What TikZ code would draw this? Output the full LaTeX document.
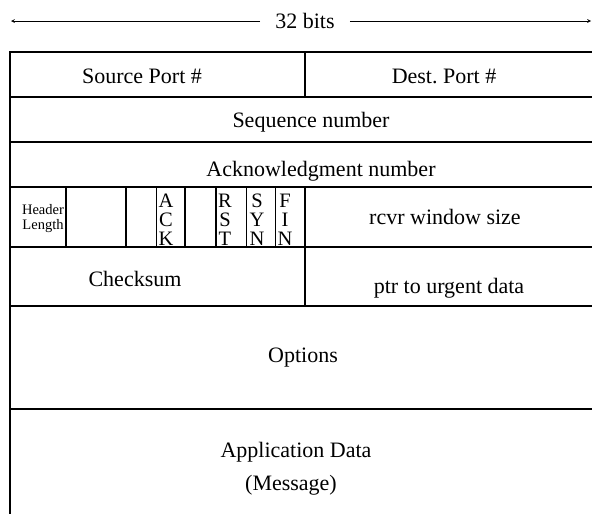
\documentclass[tikz,border=0pt]{standalone}
\usepackage{fontspec}
\setmainfont{Liberation Serif}
\usetikzlibrary{arrows,positioning}
\tikzset{
	field/.style={inner sep=0pt,anchor=base,font=\fontsize{22}{26}\selectfont},
	small/.style={inner sep=0pt,align=center,font=\fontsize{14.5}{15}\selectfont},
	flag/.style={inner sep=0pt,anchor=north,align=center,font=\fontsize{20.5}{19}\selectfont},
	rule/.style={line width=1.1pt},
	thinrule/.style={line width=0.6pt}
}
\begin{document}
\begin{tikzpicture}[x=1pt,y=-1pt]
			\clip (0,0) rectangle (592,514);
			% width arrow
			\node[field,anchor=center,inner xsep=15pt,inner ysep=0pt] (bits) at (305,21) {32 bits};
			\coordinate (lend) at (11,21);
			\coordinate (rend) at (591,21);
			\path[-stealth,line width=0.7pt]
			(bits) edge (lend)
			(bits) edge (rend);
			% frame and rows
			\draw[rule] (10,514) -- (10,52) -- (600,52);
			\foreach \y in {97,142,187,247,306,409}
				\draw[rule] (10,\y) -- (600,\y);
			\draw[rule] (305,52) -- (305,97);
			\draw[rule] (305,187) -- (305,306);
			\foreach \x in {66,126,185,216}
				\draw[rule] (\x,187) -- (\x,247);
			\foreach \x in {156,246,275}
				\draw[thinrule] (\x,187) -- (\x,247);
			% fields
			\node[field] (src) at (142,83) {Source Port \#};
			\node[field] (dst) at (444,83) {Dest.\ Port \#};
			\node[field] (seq) at (311,127) {Sequence number};
			\node[field] (ack) at (321,176) {Acknowledgment number};
			\node[small] (hlen) at (43,219) {Header\\Length};
			\node[flag] (fack) at (166,194) {A\\C\\K};
			\node[flag] (frst) at (225,194) {R\\S\\T};
			\node[flag] (fsyn) at (257,194) {S\\Y\\N};
			\node[flag] (ffin) at (285,194) {F\\I\\N};
			\node[field] (rcvr) at (445,224) {rcvr window size};
			\node[field] (csum) at (135,286) {Checksum};
			\node[field] (urg) at (449,293) {ptr to urgent data};
			\node[field] (opts) at (303,362) {Options};
			\node[field] (app) at (296,457) {Application Data};
			\node[field] (msg) at (291,490) {(Message)};
		\end{tikzpicture}
\end{document}
